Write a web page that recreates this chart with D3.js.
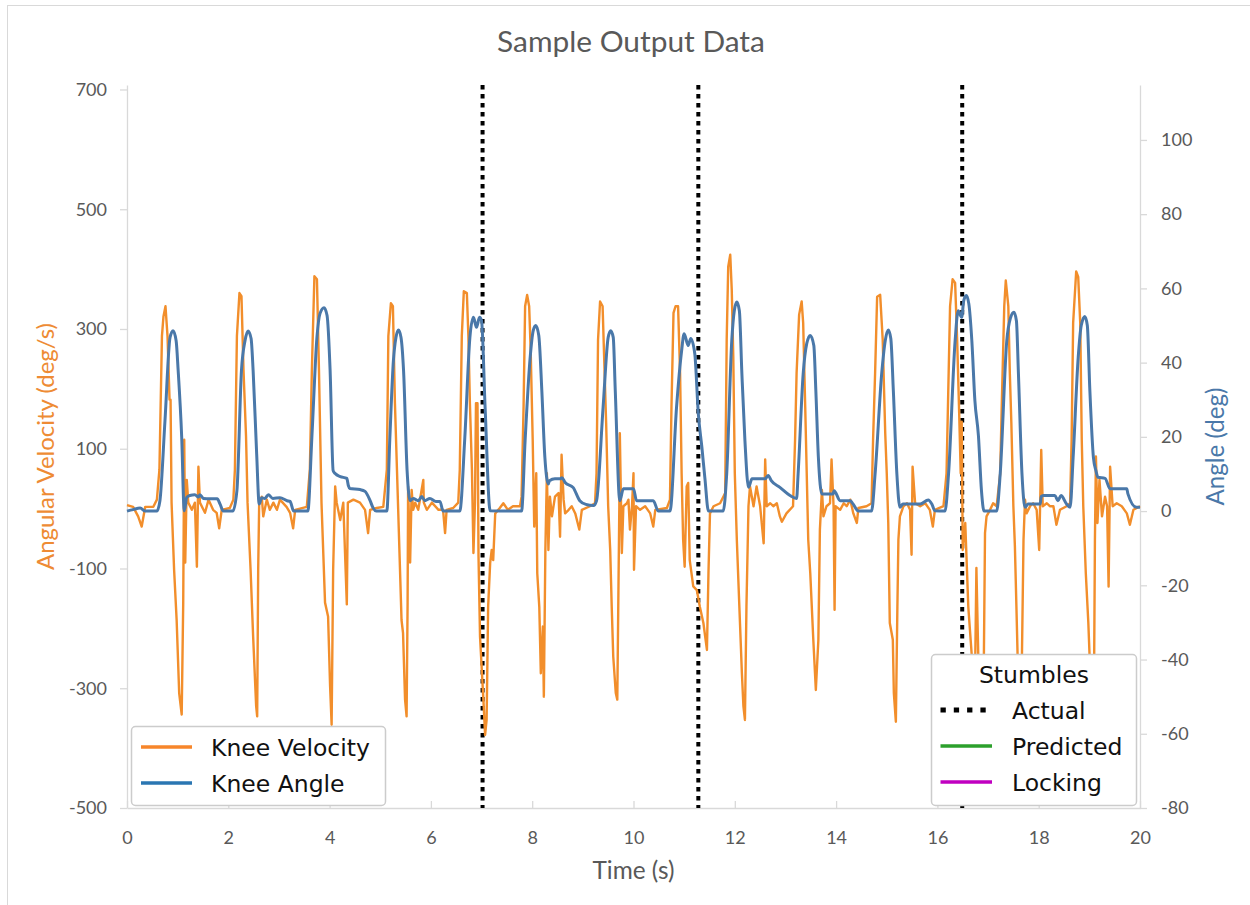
<!DOCTYPE html>
<html>
<head>
<meta charset="utf-8">
<script src="https://cdn.jsdelivr.net/npm/d3@7"></script>
<style>
  body { margin: 0; background: #fff; overflow: hidden; }
</style>
</head>
<body>
<svg id="main-svg" width="1250" height="905"></svg>
<script>
'use strict';

// [time (s), angular velocity (deg/s)]
const kneeVelocity = [
    [0.00,6],[0.12,3],[0.22,-13],[0.29,-30],[0.36,3],[0.45,3],[0.52,3],[0.59,15],[0.64,65],[0.69,288],
    [0.72,321],[0.76,338],[0.80,288],[0.84,182],[0.86,182],[0.88,10],[0.93,-102],[0.98,-186],[1.03,-308],[1.08,-344],
    [1.11,-157],[1.13,115],[1.15,-90],[1.18,48],[1.21,10],[1.28,-2],[1.34,10],[1.38,-97],[1.41,70],[1.44,10],
    [1.54,-7],[1.61,15],[1.70,-2],[1.77,-7],[1.82,-33],[1.87,-2],[2.03,1],[2.10,15],[2.13,65],[2.17,288],
    [2.22,360],[2.26,355],[2.30,232],[2.35,121],[2.38,10],[2.44,-102],[2.49,-213],[2.55,-330],[2.57,-347],[2.59,-102],
    [2.61,10],[2.66,20],[2.69,-13],[2.76,15],[2.82,-2],[2.89,10],[2.96,-2],[3.02,15],[3.15,3],[3.22,-7],
    [3.28,-33],[3.32,-2],[3.55,3],[3.61,65],[3.65,232],[3.70,388],[3.75,383],[3.79,232],[3.84,10],[3.91,-157],
    [3.97,-180],[4.01,-297],[4.04,-361],[4.07,-102],[4.11,37],[4.14,10],[4.21,-19],[4.27,10],[4.34,-160],[4.36,10],
    [4.47,15],[4.60,10],[4.70,-2],[4.76,-41],[4.80,-2],[4.93,1],[5.06,3],[5.13,65],[5.16,288],[5.21,343],
    [5.25,338],[5.29,176],[5.33,65],[5.39,-102],[5.42,-186],[5.45,-208],[5.49,-319],[5.52,-347],[5.54,-157],[5.55,37],
    [5.59,-90],[5.62,31],[5.65,-2],[5.69,10],[5.75,-2],[5.85,48],[5.86,10],[5.92,-2],[6.02,10],[6.15,-2],
    [6.24,-2],[6.28,-41],[6.31,-2],[6.44,1],[6.54,10],[6.57,65],[6.61,288],[6.65,363],[6.71,360],[6.74,288],
    [6.77,176],[6.81,65],[6.84,-74],[6.87,10],[6.89,176],[6.92,176],[6.94,-80],[6.97,-214],[7.04,-325],[7.07,-378],
    [7.10,-353],[7.13,-164],[7.17,-91],[7.20,-69],[7.23,-86],[7.27,-8],[7.30,-5],[7.36,1],[7.43,9],[7.52,-2],
    [7.62,4],[7.76,4],[7.79,20],[7.83,171],[7.86,338],[7.90,357],[7.94,338],[7.97,265],[8.01,115],[8.04,-30],
    [8.08,59],[8.10,-108],[8.14,-164],[8.17,-275],[8.21,-197],[8.23,-314],[8.26,-69],[8.29,59],[8.32,-69],[8.35,20],
    [8.39,-13],[8.45,20],[8.52,26],[8.55,-47],[8.58,90],[8.62,15],[8.65,-8],[8.72,-2],[8.78,4],[8.85,-8],
    [8.93,-35],[8.98,-2],[9.14,4],[9.24,9],[9.27,59],[9.30,282],[9.34,346],[9.39,338],[9.42,254],[9.46,143],
    [9.50,4],[9.54,-69],[9.57,-164],[9.60,-247],[9.65,-308],[9.68,-319],[9.72,4],[9.73,126],[9.77,-74],[9.80,4],
    [9.87,9],[9.90,15],[9.93,-35],[9.97,4],[10.00,59],[10.01,-102],[10.05,4],[10.13,-2],[10.23,4],[10.33,-8],
    [10.39,-30],[10.43,-2],[10.66,1],[10.72,15],[10.75,171],[10.79,327],[10.83,338],[10.88,338],[10.92,226],[10.95,59],
    [10.98,-52],[11.01,-97],[11.05,37],[11.08,43],[11.11,-86],[11.18,-130],[11.25,-136],[11.31,-164],[11.38,-191],[11.45,-236],
    [11.48,-108],[11.51,-8],[11.58,4],[11.71,9],[11.81,26],[11.84,282],[11.87,404],[11.91,424],[11.94,365],[11.97,254],
    [12.00,59],[12.04,-52],[12.09,-164],[12.14,-275],[12.17,-330],[12.20,-353],[12.23,-164],[12.27,4],[12.30,37],[12.37,4],
    [12.43,37],[12.50,4],[12.57,-58],[12.60,82],[12.63,4],[12.70,9],[12.76,4],[12.83,9],[12.89,-13],[12.93,-22],
    [13.02,-8],[13.15,4],[13.19,115],[13.22,226],[13.27,324],[13.32,346],[13.35,310],[13.39,171],[13.42,59],[13.45,-52],
    [13.49,-108],[13.55,-219],[13.60,-303],[13.65,-219],[13.68,-35],[13.72,31],[13.75,-13],[13.81,4],[13.88,9],[13.91,82],
    [13.95,4],[13.97,-169],[13.99,4],[14.08,-2],[14.15,9],[14.21,4],[14.28,15],[14.34,-8],[14.41,-24],[14.44,1],
    [14.60,4],[14.70,9],[14.73,115],[14.77,226],[14.81,354],[14.87,357],[14.92,282],[14.97,126],[15.00,59],[15.03,-24],
    [15.06,-191],[15.12,-219],[15.14,-308],[15.18,-356],[15.21,-164],[15.23,-52],[15.26,-13],[15.33,4],[15.40,9],[15.46,-2],
    [15.49,-77],[15.51,70],[15.56,9],[15.66,4],[15.76,9],[15.85,-2],[15.91,-30],[15.95,-2],[16.12,4],[16.18,59],
    [16.25,338],[16.30,383],[16.35,377],[16.39,282],[16.43,159],[16.46,59],[16.48,145],[16.50,-69],[16.55,-24],[16.61,-164],
    [16.68,-247],[16.71,-353],[16.74,-303],[16.77,-99],[16.80,-219],[16.84,-370],[16.91,-319],[16.94,-41],[16.97,-13],[17.04,-2],
    [17.10,9],[17.17,4],[17.24,59],[17.27,171],[17.32,338],[17.35,381],[17.40,338],[17.43,226],[17.46,143],[17.50,4],
    [17.53,-63],[17.56,-164],[17.60,-303],[17.63,-353],[17.66,-303],[17.70,-52],[17.73,15],[17.76,-8],[17.83,4],[17.89,9],
    [17.96,-2],[18.01,-69],[18.05,98],[18.08,4],[18.16,9],[18.22,4],[18.29,4],[18.35,-27],[18.42,-2],[18.55,4],
    [18.62,9],[18.65,115],[18.68,310],[18.74,396],[18.78,387],[18.82,310],[18.85,115],[18.88,4],[18.93,-108],[18.98,-191],
    [19.03,-303],[19.06,-356],[19.09,-319],[19.11,-52],[19.13,87],[19.16,-24],[19.20,48],[19.25,-13],[19.31,20],[19.35,4],
    [19.38,-130],[19.41,70],[19.46,4],[19.54,9],[19.64,4],[19.74,-8],[19.80,-27],[19.87,-2],[20.00,4],
];

// [time (s), knee angle (deg)]
const kneeAngle = [
    [0.00,0],[0.12,0.4],[0.26,0.8],[0.36,0],[0.59,0],[0.65,2.8],[0.75,24.4],[0.85,46.8],[0.91,48.6],[0.97,45.9],
    [1.01,37.9],[1.08,19.9],[1.13,0.1],[1.18,3.7],[1.24,4.2],[1.34,4.4],[1.41,3.8],[1.44,4.4],[1.51,3.4],[1.64,3.3],
    [1.78,3.3],[1.84,1.8],[1.90,0],[2.09,0],[2.17,5.5],[2.26,37.9],[2.33,45.9],[2.39,48.5],[2.45,46.5],[2.49,37.9],
    [2.56,15.4],[2.61,1.9],[2.66,3.6],[2.72,3.4],[2.79,4.4],[2.88,3.4],[3.02,3.6],[3.16,2.8],[3.22,2.6],[3.29,0],
    [3.57,0],[3.65,19.9],[3.75,46.8],[3.81,53.2],[3.89,54.8],[3.95,52.7],[4.01,37.9],[4.07,10.9],[4.11,10.1],[4.21,9.3],
    [4.34,8.8],[4.37,6.9],[4.40,6.1],[4.60,5.8],[4.70,5.3],[4.80,2.8],[4.86,0.8],[4.92,0],[5.13,0],[5.19,19.9],
    [5.26,40.6],[5.31,46.8],[5.36,48.8],[5.41,46.8],[5.46,37.9],[5.53,10.9],[5.59,2.8],[5.65,3.4],[5.75,2.8],[5.82,3.9],
    [5.88,2.8],[5.98,3.4],[6.10,2.6],[6.18,2.6],[6.24,0],[6.57,0],[6.67,19.9],[6.77,46.8],[6.84,52.2],[6.90,49.5],
    [6.96,52.2],[7.00,51.3],[7.07,28.0],[7.17,0.1],[7.79,0],[7.86,19],[7.96,41.4],[8.02,48.6],[8.07,50.0],[8.13,47.3],
    [8.19,32.5],[8.25,14.5],[8.32,7.3],[8.34,8.2],[8.45,8.7],[8.55,8.7],[8.59,9.0],[8.65,7.7],[8.81,6.3],[8.94,2.8],
    [9.06,1.8],[9.21,1.5],[9.27,2.8],[9.40,28.0],[9.50,46.8],[9.55,48.6],[9.60,46.8],[9.64,32.5],[9.73,2.8],[9.80,6.0],
    [10.00,6.0],[10.06,2.8],[10.23,2.8],[10.39,2.8],[10.49,0],[10.72,0],[10.85,28.0],[10.95,43.2],[11.00,47.8],[11.08,44.6],
    [11.13,46.5],[11.21,42.4],[11.28,26.2],[11.35,17.2],[11.41,8.8],[11.48,0],[11.77,0],[11.84,10.0],[11.94,45.9],[11.99,54.0],
    [12.04,56.3],[12.09,54.0],[12.14,37.0],[12.20,19.0],[12.27,6.4],[12.34,8.7],[12.60,8.7],[12.66,9.6],[12.72,8.2],[12.89,6.4],
    [13.09,4.2],[13.22,3.4],[13.25,10.0],[13.35,37.0],[13.42,45.1],[13.49,47.3],[13.56,44.6],[13.60,32.5],[13.65,14.5],[13.72,4.6],
    [13.94,4.6],[13.96,5.5],[14.08,2.8],[14.28,2.8],[14.33,2.0],[14.44,0],[14.70,0],[14.77,10.0],[14.90,37.0],[14.97,45.9],
    [15.03,48.8],[15.08,46.5],[15.13,32.5],[15.20,10.0],[15.26,1.0],[15.32,1.9],[15.66,1.9],[15.82,3.0],[15.89,1.9],[15.95,0.1],
    [16.15,0],[16.22,10.0],[16.35,45.9],[16.41,54.0],[16.48,52.2],[16.52,56.7],[16.57,58.1],[16.62,55.9],[16.68,45.9],[16.74,29.8],
    [16.81,20.3],[16.87,5.5],[16.92,0],[17.17,0],[17.24,10.0],[17.37,45.9],[17.44,51.9],[17.51,53.6],[17.56,51.3],[17.60,37.0],
    [17.67,10.0],[17.73,1.0],[17.79,1.9],[18.03,1.9],[18.05,3.9],[18.09,4.2],[18.32,4.2],[18.38,2.8],[18.44,4.2],[18.55,1.9],
    [18.62,1.0],[18.68,14.5],[18.78,41.4],[18.84,50.0],[18.91,52.4],[18.96,50.0],[19.01,32.5],[19.08,14.5],[19.13,10.9],[19.17,9.1],
    [19.31,8.8],[19.41,6.0],[19.60,6.0],[19.74,6.0],[19.76,4.7],[19.93,1.0],[20.00,1.0],
];

// actual stumble instants (s)
const stumbleTimes = [7.02, 11.28, 16.49];

const timeTicks = [0, 2, 4, 6, 8, 10, 12, 14, 16, 18, 20];
const velocityTicks = [-500, -300, -100, 100, 300, 500, 700];
const angleTicks = [-80, -60, -40, -20, 0, 20, 40, 60, 80, 100];

const dataLegend = [
    {label: 'Knee Velocity', color: '#f7862a'},
    {label: 'Knee Angle', color: '#2a76b2'},
];
const stumbleLegend = [
    {label: 'Actual', color: '#000', dash: '5.3,8', width: 5},
    {label: 'Predicted', color: '#2ca02c'},
    {label: 'Locking', color: '#c000c0'},
];

const colors = {
    velocity: '#f28e2b',
    angle: '#4a78a9',
    axis: '#d9d9d9',
    text: '#595959',
    velTitle: '#ee8b34',
    angTitle: '#4a78a9',
};

const svg = d3.select('#main-svg');

// outer chart frame
svg.append('rect')
    .attr('x', 7.5).attr('y', 5.5)
    .attr('width', 1300).attr('height', 1000)
    .attr('fill', 'none').attr('stroke', colors.axis);

const x = d3.scaleLinear([0, 20], [127, 1140]);
const yVel = d3.scaleLinear([-500, 707.5], [808, 85]);
const yAng = d3.scaleLinear([-80, 114.8], [808, 85]);

// plain hyphen for negatives, like the original
const plain = (d) => String(d);

const styleAxis = (g) => {
    g.select('.domain').attr('stroke', colors.axis).attr('stroke-width', 1.3);
    g.selectAll('.tick line').attr('stroke', colors.axis).attr('stroke-width', 1.3);
    g.selectAll('.tick text')
        .attr('fill', colors.text)
        .attr('font-family', 'Lato, "Open Sans", sans-serif')
        .attr('font-size', 18);
};

svg.append('g')
    .attr('transform', 'translate(127,0)')
    .call(d3.axisLeft(yVel).tickValues(velocityTicks).tickFormat(plain)
        .tickSize(7).tickSizeOuter(0).tickPadding(13))
    .call(styleAxis);

svg.append('g')
    .attr('transform', 'translate(1140,0)')
    .call(d3.axisRight(yAng).tickValues(angleTicks).tickFormat(plain)
        .tickSize(7).tickSizeOuter(0).tickPadding(14))
    .call(styleAxis);

svg.append('g')
    .attr('transform', 'translate(0,808)')
    .call(d3.axisBottom(x).tickValues(timeTicks).tickFormat(plain)
        .tickSizeInner(-7).tickSizeOuter(0).tickPadding(23))
    .call(styleAxis);

// stumble markers
svg.append('g').selectAll('line')
    .data(stumbleTimes)
    .enter().append('line')
    .attr('x1', d => x(d)).attr('x2', d => x(d))
    .attr('y1', 85).attr('y2', 808)
    .attr('stroke', '#000')
    .attr('stroke-width', 4)
    .attr('stroke-dasharray', '4.5,4.5');

const velLine = d3.line().x(d => x(d[0])).y(d => yVel(d[1]));
const angLine = d3.line().x(d => x(d[0])).y(d => yAng(d[1])).curve(d3.curveMonotoneX);

svg.append('path')
    .datum(kneeVelocity)
    .attr('d', velLine)
    .attr('fill', 'none')
    .attr('stroke', colors.velocity)
    .attr('stroke-width', 2.4)
    .attr('stroke-linejoin', 'round');

svg.append('path')
    .datum(kneeAngle)
    .attr('d', angLine)
    .attr('fill', 'none')
    .attr('stroke', colors.angle)
    .attr('stroke-width', 3)
    .attr('stroke-linejoin', 'round');

// size a text so it spans a given width
const fitText = (sel, w) => {
    const len = sel.node().getComputedTextLength();
    const fs = parseFloat(sel.attr('font-size'));
    sel.attr('font-size', fs * w / len);
};

const calib = 'Lato, "Open Sans", sans-serif';

svg.append('text')
    .attr('x', 631).attr('y', 52)
    .attr('text-anchor', 'middle')
    .attr('font-family', calib).attr('font-size', 28)
    .attr('fill', colors.text)
    .text('Sample Output Data')
    .call(fitText, 268);

svg.append('text')
    .attr('x', 633.5).attr('y', 879)
    .attr('text-anchor', 'middle')
    .attr('font-family', calib).attr('font-size', 20)
    .attr('fill', colors.text)
    .text('Time (s)')
    .call(fitText, 82);

svg.append('text')
    .attr('transform', 'translate(54,446.5) rotate(-90)')
    .attr('text-anchor', 'middle')
    .attr('font-family', calib).attr('font-size', 20)
    .attr('fill', colors.velTitle)
    .text('Angular Velocity (deg/s)')
    .call(fitText, 247);

svg.append('text')
    .attr('transform', 'translate(1224,446.5) rotate(-90)')
    .attr('text-anchor', 'middle')
    .attr('font-family', calib).attr('font-size', 20)
    .attr('fill', colors.angTitle)
    .text('Angle (deg)')
    .call(fitText, 118);

// legends
const legendFont = '"DejaVu Sans", sans-serif';

const leg1 = svg.append('g');
leg1.append('rect')
    .attr('x', 131.5).attr('y', 726.5).attr('width', 254).attr('height', 79)
    .attr('rx', 4).attr('fill', '#fff').attr('stroke', '#cccccc').attr('stroke-width', 1.5);
dataLegend.forEach((d, i) => {
    const cy = 747 + i * 36;
    leg1.append('line')
        .attr('x1', 141).attr('x2', 192).attr('y1', cy).attr('y2', cy)
        .attr('stroke', d.color).attr('stroke-width', 3.5);
    leg1.append('text')
        .attr('x', 211).attr('y', cy + 8.5)
        .attr('font-family', legendFont).attr('font-size', 23.5)
        .attr('fill', '#111')
        .text(d.label);
});

const leg2 = svg.append('g');
leg2.append('rect')
    .attr('x', 931.5).attr('y', 654.5).attr('width', 205).attr('height', 151)
    .attr('rx', 4).attr('fill', '#fff').attr('stroke', '#cccccc').attr('stroke-width', 1.5);
leg2.append('text')
    .attr('x', 1034).attr('y', 683)
    .attr('text-anchor', 'middle')
    .attr('font-family', legendFont).attr('font-size', 23.5)
    .attr('fill', '#111')
    .text('Stumbles');
stumbleLegend.forEach((d, i) => {
    const cy = 710 + i * 36;
    leg2.append('line')
        .attr('x1', 940.5).attr('x2', 992).attr('y1', cy).attr('y2', cy)
        .attr('stroke', d.color)
        .attr('stroke-width', d.width || 3.5)
        .attr('stroke-dasharray', d.dash || null);
    leg2.append('text')
        .attr('x', 1012).attr('y', cy + 8.5)
        .attr('font-family', legendFont).attr('font-size', 23.5)
        .attr('fill', '#111')
        .text(d.label);
});
</script>
</body>
</html>
